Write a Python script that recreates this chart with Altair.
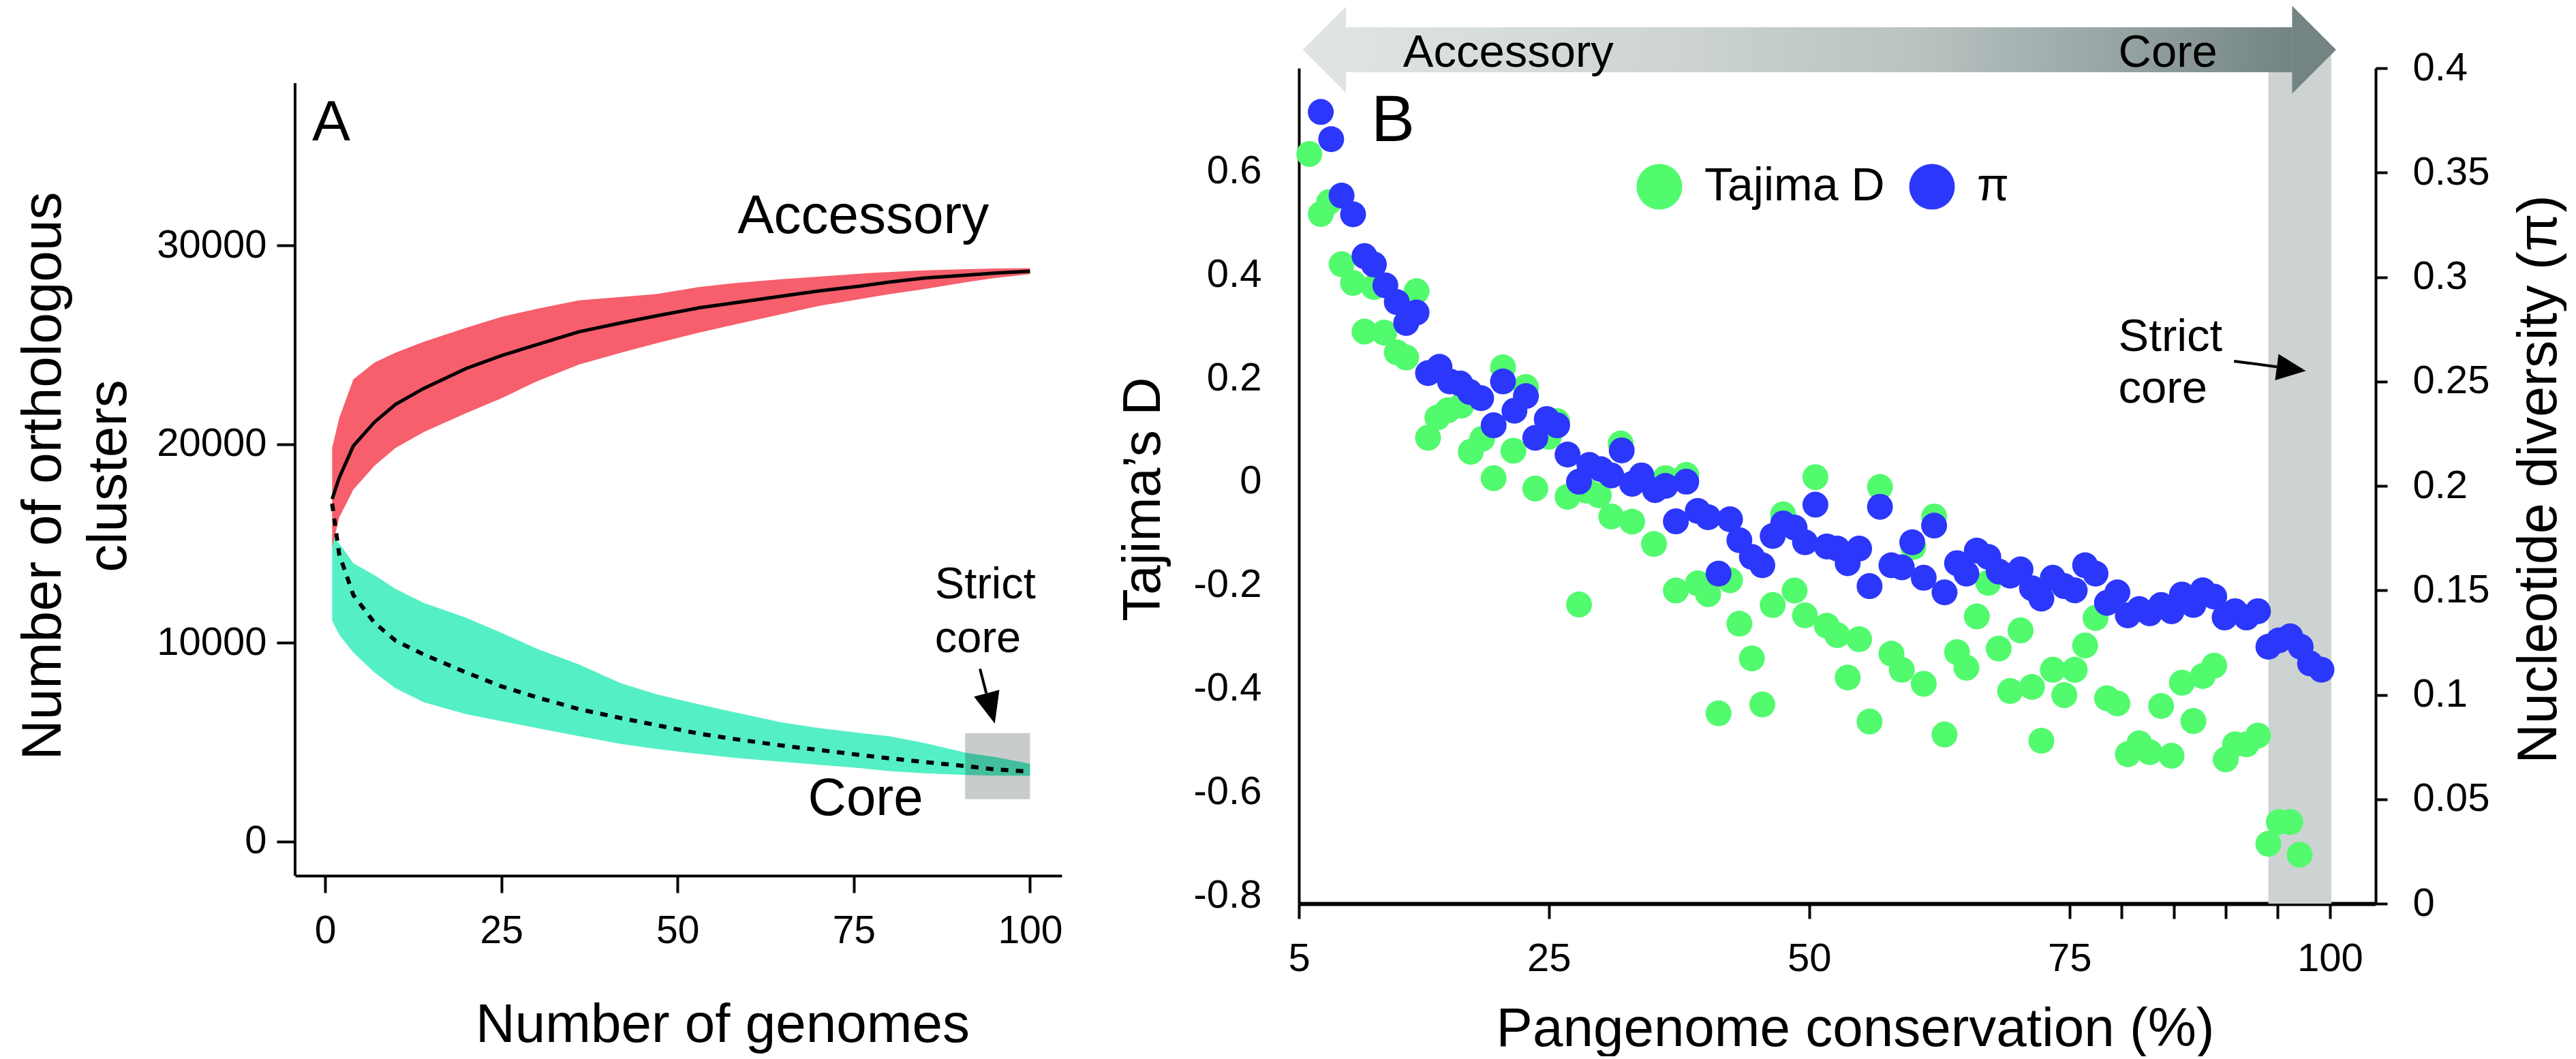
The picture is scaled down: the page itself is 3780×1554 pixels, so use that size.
import altair as alt
import pandas as pd

FONT = "Liberation Sans"
PINK = "#f65f6b"
TEAL = "#55efc5"
GREEN = "#52fa6e"
BLUE = "#2b37fa"

# ---------------- Panel A data (number of genomes vs orthologous clusters) ----------------
genomes = [1, 2, 4, 7, 10, 14, 20, 25, 30, 36, 42, 47, 53, 58, 65, 70, 76, 80, 85, 91, 95, 100]
acc_upper = [19800, 21300, 23250, 24100, 24600, 25150, 25850, 26400, 26800, 27230, 27400, 27550,
             27900, 28100, 28300, 28420, 28580, 28650, 28740, 28800, 28830, 28850]
acc_lower = [14800, 16300, 17700, 18900, 19800, 20600, 21550, 22300, 23150, 24000, 24600, 25070,
             25600, 26000, 26550, 26950, 27300, 27540, 27800, 28150, 28350, 28550]
acc_median = [17230, 18300, 19900, 21100, 22000, 22800, 23800, 24450, 25000, 25650, 26100, 26450,
              26850, 27100, 27450, 27700, 27950, 28150, 28350, 28500, 28600, 28700]
core_upper = [15400, 15000, 14000, 13400, 12700, 12000, 11250, 10500, 9700, 8900, 7950, 7400,
              6900, 6500, 5970, 5700, 5450, 5290, 4950, 4450, 4250, 3900]
core_lower = [11100, 10400, 9500, 8500, 7700, 7000, 6400, 6050, 5700, 5290, 4900, 4650,
              4400, 4200, 4000, 3850, 3680, 3530, 3420, 3340, 3300, 3300]
core_median = [17000, 14450, 12400, 11000, 10100, 9400, 8500, 7800, 7250, 6650, 6200, 5850,
               5420, 5150, 4810, 4600, 4340, 4180, 3990, 3780, 3620, 3500]

# ---------------- Panel B data (pangenome conservation) ----------------
cons_tajima = [2.0, 3.1, 3.9, 5.1, 6.2, 7.3, 8.2, 9.2, 10.4, 11.3, 12.3, 13.4, 14.3, 15.3, 16.6, 17.5,
               18.6, 19.7, 20.6, 21.6, 22.8, 23.7, 25.0, 25.8, 26.8, 27.9, 28.6, 29.8, 31.0, 31.9,
               33.0, 35.1, 36.2, 37.2, 38.2, 39.3, 40.3, 41.3, 42.4, 43.3, 44.5, 45.5, 46.5, 47.5,
               48.6, 49.6, 50.6, 51.7, 52.7, 53.7, 54.8, 55.8, 56.8, 57.9, 58.9, 60.0, 61.0, 62.0,
               63.0, 64.2, 65.1, 66.1, 67.2, 68.2, 69.3, 70.3, 71.4, 72.3, 73.4, 74.5, 75.5, 76.5,
               77.5, 78.6, 79.6, 80.6, 81.7, 82.7, 83.8, 84.8, 85.8, 86.9, 87.8, 88.9, 90.0, 90.9,
               92.0, 93.1, 94.1, 95.1, 96.2, 97.1]
tajima_d = [0.633, 0.517, 0.54, 0.42, 0.384, 0.29, 0.376, 0.288, 0.25, 0.24, 0.368, 0.085, 0.124,
            0.138, 0.147, 0.058, 0.083, 0.007, 0.221, 0.06, 0.183, -0.013, 0.087, 0.117, -0.029,
            -0.237, -0.017, -0.026, -0.067, 0.074, -0.077, -0.12, 0.007, -0.21, 0.013, -0.196,
            -0.217, -0.447, -0.19, -0.274, -0.341, -0.43, -0.238, -0.063, -0.21, -0.258, 0.009,
            -0.278, -0.296, -0.378, -0.304, -0.463, -0.01, -0.332, -0.363, -0.126, -0.39, -0.067,
            -0.488, -0.329, -0.359, -0.26, -0.195, -0.322, -0.404, -0.287, -0.396, -0.5, -0.363,
            -0.412, -0.363, -0.316, -0.263, -0.418, -0.428, -0.526, -0.505, -0.522, -0.433, -0.529,
            -0.388, -0.462, -0.375, -0.355, -0.536, -0.507, -0.507, -0.49, -0.699, -0.657, -0.657,
            -0.72]
cons_pi = [3.1, 4.1, 5.1, 6.2, 7.3, 8.2, 9.3, 10.4, 11.3, 12.3, 13.4, 14.5, 15.5, 16.5, 17.4, 18.5,
           19.7, 20.6, 21.7, 22.8, 23.7, 24.8, 25.8, 26.8, 27.9, 28.9, 30.0, 31.0, 32.0, 33.0, 33.9,
           35.2, 36.2, 37.2, 38.2, 39.3, 40.3, 41.3, 42.4, 43.3, 44.5, 45.5, 46.5, 47.5, 48.6, 49.6,
           50.6, 51.7, 52.7, 53.7, 54.8, 55.8, 56.8, 57.9, 58.9, 59.9, 61.0, 62.0, 63.0, 64.2, 65.1,
           66.1, 67.2, 68.2, 69.3, 70.3, 71.4, 72.3, 73.4, 74.5, 75.5, 76.5, 77.5, 78.6, 79.6, 80.6,
           81.7, 82.7, 83.8, 84.8, 85.8, 86.9, 87.8, 88.9, 89.9, 90.9, 92.0, 93.1, 94.1, 95.1, 96.2,
           97.2, 98.1, 99.2]
pi_vals = [0.379, 0.366, 0.339, 0.330, 0.310, 0.306, 0.296, 0.288, 0.278, 0.283, 0.254, 0.257, 0.250,
           0.249, 0.245, 0.242, 0.229, 0.250, 0.236, 0.243, 0.223, 0.232, 0.229, 0.215, 0.202, 0.210,
           0.208, 0.205, 0.217, 0.201, 0.205, 0.198, 0.200, 0.183, 0.202, 0.188, 0.185, 0.158, 0.184,
           0.174, 0.166, 0.162, 0.176, 0.182, 0.180, 0.173, 0.191, 0.171, 0.170, 0.163, 0.170, 0.152,
           0.190, 0.162, 0.161, 0.173, 0.156, 0.181, 0.149, 0.163, 0.158, 0.169, 0.166, 0.159, 0.157,
           0.160, 0.151, 0.146, 0.156, 0.152, 0.150, 0.162, 0.158, 0.144, 0.149, 0.138, 0.141, 0.139,
           0.143, 0.140, 0.148, 0.143, 0.150, 0.147, 0.137, 0.140, 0.137, 0.140, 0.123, 0.126, 0.128,
           0.123, 0.115, 0.112]
series_names = ["Tajima D", "\u03c0"]

# ======================= Panel A =======================
WA, HA = 1125, 1185
A_XMIN, A_XMAX = -4.26, 104.5
A_YMIN, A_YAXTOP, A_YMAX = -1732, 38165, 38920
xsA = alt.Scale(domain=[A_XMIN, A_XMAX], nice=False, zero=False)
ysA = alt.Scale(domain=[A_YMIN, A_YMAX], nice=False, zero=False)

axis_common = dict(grid=False, domainColor="black", tickColor="black", labelColor="black",
                   labelFont=FONT, titleFont=FONT, titleFontWeight="normal", titleColor="black",
                   labelOverlap=False, labelFlush=False)

axA_x = alt.Axis(values=[0, 25, 50, 75, 100], title="Number of genomes", domainWidth=4, tickWidth=4,
                 tickSize=25, labelFontSize=57, labelPadding=28, titleFontSize=80,
                 titleX=627, titleY=243, titleAlign="center", titleBaseline="alphabetic", **axis_common)
axA_y = alt.Axis(values=[0, 10000, 20000, 30000], format="d", title=["Number of orthologous", "clusters"],
                 domain=False, tickWidth=4, tickSize=27, labelFontSize=58, labelPadding=15,
                 titleFontSize=82, titleLineHeight=96, titleAngle=270, titleX=-345, titleY=598,
                 titleAlign="center", titleBaseline="alphabetic", **axis_common)


def XA(f):
    return alt.X(f"{f}:Q", scale=xsA, axis=axA_x)


def YA(f):
    return alt.Y(f"{f}:Q", scale=ysA, axis=axA_y)


dfA = pd.DataFrame(dict(g=genomes, acc_lo=acc_lower, acc_hi=acc_upper, acc_mid=acc_median,
                        core_lo=core_lower, core_hi=core_upper, core_mid=core_median))

core_band = alt.Chart(dfA).mark_area(color=TEAL, opacity=1).encode(
    x=XA("g"), y=YA("core_lo"), y2=alt.Y2("core_hi:Q"))
acc_band = alt.Chart(dfA).mark_area(color=PINK, opacity=1).encode(
    x=XA("g"), y=YA("acc_lo"), y2=alt.Y2("acc_hi:Q"))
acc_line = alt.Chart(dfA).mark_line(color="black", strokeWidth=5).encode(x=XA("g"), y=YA("acc_mid"))
core_line = alt.Chart(dfA).mark_line(color="black", strokeWidth=6, strokeDash=[11, 11]).encode(
    x=XA("g"), y=YA("core_mid"))

# y axis line of panel A (spans the axis range only)
dfYAxisA = pd.DataFrame(dict(g=[A_XMIN], v=[A_YMIN], v2=[A_YAXTOP]))
yaxis_lineA = alt.Chart(dfYAxisA).mark_rule(color="black", strokeWidth=4).encode(
    x=XA("g"), y=YA("v"), y2="v2:Q")

dfBoxA = pd.DataFrame(dict(g=[90.8], g2=[100.0], v=[2117], v2=[5450]))
boxA = alt.Chart(dfBoxA).mark_rect(color="#c9cccc", blend="multiply").encode(
    x=XA("g"), x2="g2:Q", y=YA("v"), y2="v2:Q")

dfTextA = pd.DataFrame(dict(g=[58.5, 68.5, 86.5, 86.5, -1.84],
                            v=[30617, 1330, 12230, 9520, 35283],
                            label=["Accessory", "Core", "Strict", "core", "A"],
                            fs=[80, 78, 65, 65, 84]))
textA = alt.Chart(dfTextA).mark_text(font=FONT, align="left", baseline="alphabetic", color="black").encode(
    x=XA("g"), y=YA("v"), text="label:N", size=alt.Size("fs:Q", scale=None, legend=None))

dfArrA = pd.DataFrame(dict(g=[92.9], v=[8680], g2=[93.8], v2=[7450]))
arrA_rule = alt.Chart(dfArrA).mark_rule(color="black", strokeWidth=4).encode(
    x=XA("g"), y=YA("v"), x2="g2:Q", y2="v2:Q")
dfArrA_tip = pd.DataFrame(dict(g=[95.0], v=[5925]))
arrA_head = alt.Chart(dfArrA_tip).mark_point(
    shape="M0,0L-0.42,1L0.42,1Z", filled=True, color="black", opacity=1, size=8464, angle=165,
    strokeWidth=0).encode(x=XA("g"), y=YA("v"))

# invisible anchor fixing the left edge of the figure
anchorA = alt.Chart(pd.DataFrame(dict(a=[0]))).mark_point(opacity=0, size=1, strokeWidth=0).encode(
    x=alt.value(-424), y=alt.value(600))

chartA = alt.layer(core_band, acc_band, acc_line, core_line, yaxis_lineA, boxA, textA, arrA_rule,
                   arrA_head, anchorA).properties(width=WA, height=HA)

# ======================= Panel B =======================
WB, HB = 1580, 1226
xsB = alt.Scale(domain=[1, 104.4], nice=False, zero=False)
ysL = alt.Scale(domain=[-0.8145, 0.7987], nice=False, zero=False)
ysR = alt.Scale(domain=[0, 0.4], nice=False, zero=False)

axB_x = alt.Axis(values=[1, 25, 50, 75, 80, 85, 90, 95, 100],
                 labelExpr="datum.value == 1 ? '5' : ((datum.value == 25 || datum.value == 50 || datum.value == 75 || datum.value == 100) ? toString(datum.value) : '')",
                 title="Pangenome conservation (%)", domainWidth=6, tickWidth=4, tickSize=22,
                 labelFontSize=58, labelPadding=30, titleFontSize=80, titleX=816, titleY=208,
                 titleAlign="center", titleBaseline="alphabetic", **axis_common)
axB_yL = alt.Axis(values=[-0.8, -0.6, -0.4, -0.2, 0, 0.2, 0.4, 0.6, 0.8],
                  labelExpr="(datum.value < -0.001 ? '-' : '') + (abs(datum.value) < 0.001 ? '0' : format(abs(datum.value), '.1f'))",
                  title="Tajima\u2019s D", orient="left", domainWidth=4, ticks=False, tickSize=0,
                  labelFontSize=58, labelPadding=55, titleFontSize=78, titleAngle=270,
                  titleX=-205, titleY=632, titleAlign="center", titleBaseline="alphabetic", **axis_common)
axB_yR = alt.Axis(values=[0, 0.05, 0.1, 0.15, 0.2, 0.25, 0.3, 0.35, 0.4],
                  labelExpr="format(datum.value, '~g')",
                  title="Nucleotide diversity (\u03c0)", orient="right", domainWidth=4, tickWidth=4,
                  tickSize=17, labelFontSize=58, labelPadding=37, labelAlign="left", titleFontSize=81,
                  titleAngle=270, titleX=264, titleY=603, titleAlign="center", titleBaseline="alphabetic",
                  **axis_common)


def XB(f):
    return alt.X(f"{f}:Q", scale=xsB, axis=axB_x)


def YL(f):
    return alt.Y(f"{f}:Q", scale=ysL, axis=axB_yL)


COLOR = alt.Color("series:N", scale=alt.Scale(domain=series_names, range=[GREEN, BLUE]),
                  legend=alt.Legend(title=None, orient="none", legendX=495, legendY=140,
                                    direction="horizontal", symbolType="circle", symbolSize=4489,
                                    symbolStrokeWidth=0, symbolOpacity=1, labelFont=FONT,
                                    labelFontSize=68, labelColor="black", labelOffset=32,
                                    columnPadding=35, padding=0, labelLimit=0))

dfT = pd.DataFrame(dict(cons=cons_tajima, D=tajima_d, series=series_names[0]))
dfP = pd.DataFrame(dict(cons=cons_pi, pi=pi_vals, series=series_names[1]))

dfBandB = pd.DataFrame(dict(x=[94.1], x2=[100.15]))
bandB = alt.Chart(dfBandB).mark_rect(color="#cdd3d2").encode(
    x=XB("x"), x2="x2:Q", y=alt.value(-20), y2=alt.value(HB))

# top double arrow (Accessory -> Core)
grad = alt.Gradient(gradient="linear", x1=0, x2=1, y1=0, y2=0,
                    stops=[alt.GradientStop(offset=0, color="#dfe4e3"),
                           alt.GradientStop(offset=0.35, color="#cdd4d3"),
                           alt.GradientStop(offset=0.6, color="#b9c3c2"),
                           alt.GradientStop(offset=0.8, color="#99a7a6"),
                           alt.GradientStop(offset=1, color="#738482")])
dfBody = pd.DataFrame(dict(x=[5.5], x2=[96.4]))
arrow_body = alt.Chart(dfBody).mark_rect(color=grad).encode(
    x=XB("x"), x2="x2:Q", y=alt.value(-60), y2=alt.value(6))
dfHeadL = pd.DataFrame(dict(x=[1.37]))
headL = alt.Chart(dfHeadL).mark_point(shape="M0,0L1,-1L1,1Z", filled=True, color="#dfe4e3",
                                      opacity=1, size=16129, strokeWidth=0).encode(
    x=XB("x"), y=alt.value(-27))
dfHeadR = pd.DataFrame(dict(x=[100.6]))
headR = alt.Chart(dfHeadR).mark_point(shape="M0,0L-1,-1L-1,1Z", filled=True, color="#738482",
                                      opacity=1, size=16641, strokeWidth=0).encode(
    x=XB("x"), y=alt.value(-27))
dfArrowTxt = pd.DataFrame(dict(x=[11.0, 79.7], label=["Accessory", "Core"]))
arrow_txt = alt.Chart(dfArrowTxt).mark_text(font=FONT, fontSize=67, align="left", baseline="alphabetic",
                                            color="black").encode(
    x=XB("x"), y=alt.value(-2), text="label:N")

green_pts = alt.Chart(dfT).mark_circle(size=1444, opacity=1).encode(
    x=XB("cons"), y=YL("D"), color=COLOR)

dfTextB = pd.DataFrame(dict(x=[7.94, 79.7, 79.7], D=[0.658, 0.253, 0.153],
                            label=["B", "Strict", "core"], fs=[96, 67, 67]))
textB = alt.Chart(dfTextB).mark_text(font=FONT, align="left", baseline="alphabetic", color="black").encode(
    x=XB("x"), y=YL("D"), text="label:N", size=alt.Size("fs:Q", scale=None, legend=None))

dfArrB = pd.DataFrame(dict(x=[90.8], D=[0.233], x2=[94.9], D2=[0.222]))
arrB_rule = alt.Chart(dfArrB).mark_rule(color="black", strokeWidth=4).encode(
    x=XB("x"), y=YL("D"), x2="x2:Q", y2="D2:Q")
dfArrB_tip = pd.DataFrame(dict(x=[97.7], D=[0.214]))
arrB_head = alt.Chart(dfArrB_tip).mark_point(
    shape="M0,0L-0.45,1L0.45,1Z", filled=True, color="black", opacity=1, size=7396, angle=97.5,
    strokeWidth=0).encode(x=XB("x"), y=YL("D"))

left_group = alt.layer(bandB, arrow_body, headL, headR, arrow_txt, green_pts, textB, arrB_rule, arrB_head)

blue_pts = alt.Chart(dfP).mark_circle(size=1444, opacity=1).encode(
    x=XB("cons"), y=alt.Y("pi:Q", scale=ysR, axis=axB_yR), color=COLOR)

chartB = alt.layer(left_group, blue_pts).resolve_scale(y="independent").properties(width=WB, height=HB)

chart = alt.hconcat(chartA, chartB, spacing=348, bounds="flush").resolve_scale(color="independent").properties(
    padding=0).configure(font=FONT).configure_view(stroke=None)

chart.save("out.html", embed_options={"renderer": "svg", "actions": False})
